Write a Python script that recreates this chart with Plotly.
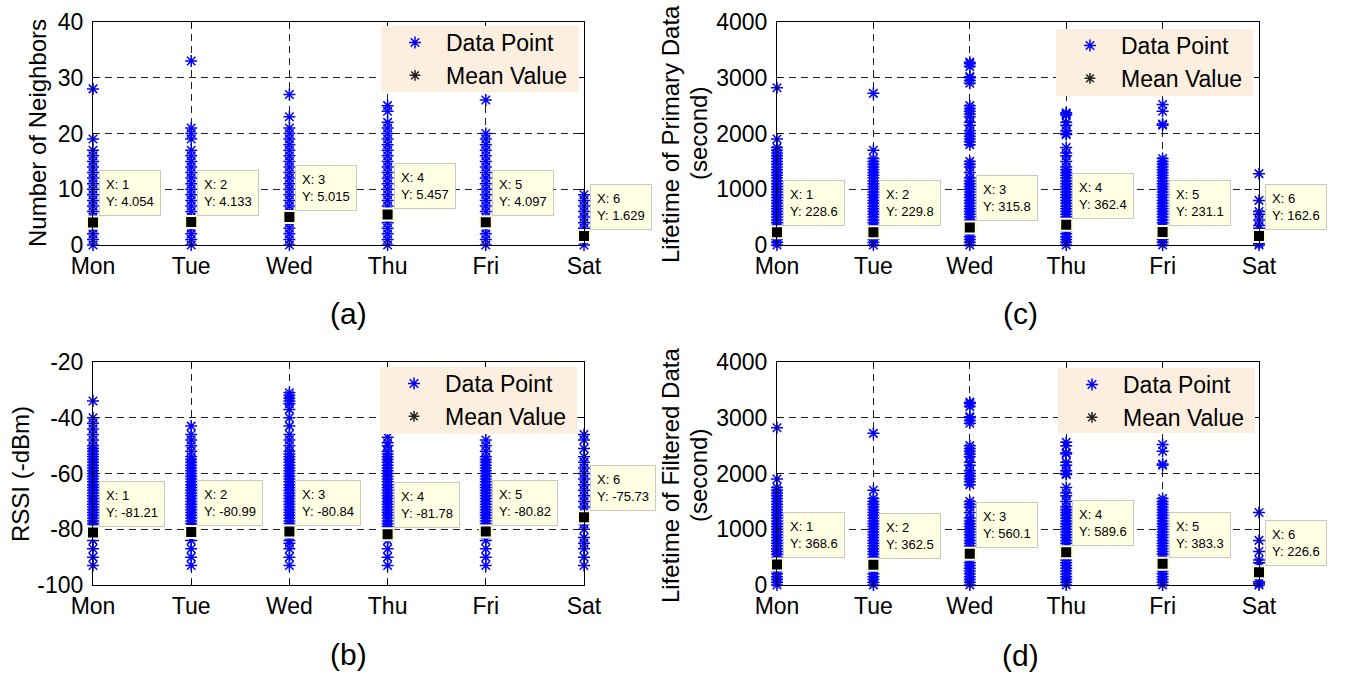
import plotly.graph_objects as go

W, H = 1347, 676
FONT = "Liberation Sans, Arial, sans-serif"

days = ["Mon", "Tue", "Wed", "Thu", "Fri", "Sat"]
day_pos = [1, 2, 3, 4, 5, 6]

# ---------------- (a) Number of neighbors ----------------
nb_mon = [0, 1, 2, 3, 4, 5, 6, 7, 8, 9, 10, 11, 12, 13, 14, 15, 16, 17, 19, 28]
nb_tue = [0, 1, 2, 3, 4, 5, 6, 7, 8, 9, 10, 11, 12, 13, 14, 15, 16, 17, 19, 20, 21, 33]
nb_wed = [0, 1, 2, 3, 4, 5, 6, 7, 8, 9, 10, 11, 12, 13, 14, 15, 16, 17, 18, 19, 20, 21, 23, 27]
nb_thu = [0, 1, 2, 3, 4, 5, 6, 7, 8, 9, 10, 11, 12, 13, 14, 15, 16, 17, 18, 19, 20, 21, 22, 24, 25]
nb_fri = [0, 1, 2, 3, 4, 5, 6, 7, 8, 9, 10, 11, 12, 13, 14, 15, 16, 17, 18, 19, 20, 26]
nb_sat = [0, 1, 2, 3, 4, 5, 6, 7, 8, 9]
nb_mean = [4.054, 4.133, 5.015, 5.457, 4.097, 1.629]
nb_mean_txt = ["4.054", "4.133", "5.015", "5.457", "4.097", "1.629"]
nb_ticks = [0, 10, 20, 30, 40]
nb_ticktext = ["0", "10", "20", "30", "40"]

# ---------------- (b) RSSI ----------------
rs_mon = [-93, -90, -87, -84, -82, -80, -79, -78, -77, -76, -75, -74, -73, -72, -71, -70, -69,
          -68, -67, -66, -65, -64, -63, -62, -61, -60, -59, -58, -57, -56, -55, -54, -53, -52,
          -51, -50, -48, -46, -44, -42, -40, -34]
rs_tue = [-93, -90, -87, -84, -82, -80, -79, -78, -77, -76, -75, -74, -73, -72, -71, -70, -69,
          -68, -67, -66, -65, -64, -63, -62, -61, -60, -59, -58, -57, -56, -55, -54, -52, -50,
          -48, -46, -43]
rs_wed = [-93, -90, -87, -85, -84, -82, -80, -79, -78, -77, -76, -75, -74, -73, -72, -71, -70,
          -69, -68, -67, -66, -65, -64, -63, -62, -61, -60, -59, -58, -57, -56, -55, -54, -53,
          -52, -50, -48, -46, -43, -40, -37, -35, -34, -33, -32, -31]
rs_thu = [-93, -90, -87, -84, -82, -80, -79, -78, -77, -76, -75, -74, -73, -72, -71, -70, -69,
          -68, -67, -66, -65, -64, -63, -62, -61, -60, -59, -58, -57, -56, -55, -54, -53, -52,
          -50, -49, -47]
rs_fri = [-93, -90, -87, -84, -82, -80, -79, -78, -77, -76, -75, -74, -73, -72, -71, -70, -69,
          -68, -67, -66, -65, -64, -63, -62, -61, -60, -59, -58, -57, -56, -55, -54, -52, -50,
          -48]
rs_sat = [-93, -90, -87, -85, -83, -80, -78, -76, -74, -72, -70, -68, -66, -64, -62, -60, -58,
          -56, -54, -51, -48, -46]
rs_mean = [-81.21, -80.99, -80.84, -81.78, -80.82, -75.73]
rs_mean_txt = ["-81.21", "-80.99", "-80.84", "-81.78", "-80.82", "-75.73"]
rs_ticks = [-100, -80, -60, -40, -20]
rs_ticktext = ["-100", "-80", "-60", "-40", "-20"]

# ---------------- (c) Lifetime of primary data ----------------
lp_mon = [0, 50, 100, 150, 200, 250, 300, 350, 400, 450, 500, 550, 600, 650, 700, 750, 800,
          850, 900, 950, 1000, 1050, 1100, 1150, 1200, 1250, 1300, 1350, 1400, 1450, 1500,
          1550, 1600, 1650, 1700, 1750, 1900, 2820]
lp_tue = [0, 50, 100, 150, 200, 250, 300, 350, 400, 450, 500, 550, 600, 650, 700, 750, 800,
          850, 900, 950, 1000, 1050, 1100, 1150, 1200, 1250, 1300, 1350, 1400, 1450, 1500,
          1550, 1700, 2720]
lp_wed = [0, 50, 100, 150, 200, 250, 300, 350, 400, 450, 500, 550, 600, 650, 700, 750, 800,
          850, 900, 950, 1000, 1050, 1100, 1150, 1200, 1300, 1400, 1450, 1500,
          1800, 1850, 1900, 1950, 2000, 2050, 2150, 2200, 2300, 2350, 2400, 2450, 2500,
          2900, 2950, 3000, 3020, 3200, 3250, 3280]
lp_thu = [0, 50, 100, 150, 200, 250, 300, 350, 400, 450, 500, 550, 600, 650, 700, 750, 800,
          850, 900, 950, 1000, 1050, 1100, 1150, 1200, 1250, 1300, 1350, 1400, 1500,
          1600, 1650, 1750, 1980, 2000, 2050, 2150, 2200, 2330, 2350, 2370]
lp_fri = [0, 50, 100, 150, 200, 250, 300, 350, 400, 450, 500, 550, 600, 650, 700, 750, 800,
          850, 900, 950, 1000, 1050, 1100, 1150, 1200, 1250, 1300, 1350, 1400, 1450, 1500,
          1550, 2150, 2170, 2400, 2520]
lp_sat = [0, 30, 60, 300, 350, 450, 550, 600, 800, 1280]
lp_mean = [228.6, 229.8, 315.8, 362.4, 231.1, 162.6]
lp_mean_txt = ["228.6", "229.8", "315.8", "362.4", "231.1", "162.6"]
lt_ticks = [0, 1000, 2000, 3000, 4000]
lt_ticktext = ["0", "1000", "2000", "3000", "4000"]

# ---------------- (d) Lifetime of filtered data ----------------
lf_mon = [0, 50, 100, 150, 200, 250, 300, 350, 400, 450, 500, 550, 600, 650, 700, 750, 800,
          850, 900, 950, 1000, 1050, 1100, 1150, 1200, 1250, 1300, 1350, 1400, 1450, 1500,
          1550, 1600, 1650, 1700, 1750, 1900, 2820]
lf_tue = [0, 50, 100, 150, 200, 250, 300, 350, 400, 450, 500, 550, 600, 650, 700, 750, 800,
          850, 900, 950, 1000, 1050, 1100, 1150, 1200, 1250, 1300, 1350, 1400, 1450, 1500,
          1550, 1700, 2720]
lf_wed = [0, 50, 100, 150, 200, 250, 300, 350, 400, 450, 500, 550, 600, 650, 700, 750, 800,
          850, 900, 950, 1000, 1050, 1100, 1150, 1200, 1300, 1400, 1450, 1500,
          1800, 1850, 1900, 1950, 2000, 2050, 2150, 2200, 2300, 2350, 2400, 2450, 2500,
          2900, 2950, 3000, 3020, 3200, 3250, 3280]
lf_thu = [0, 50, 100, 150, 200, 250, 300, 350, 400, 450, 500, 550, 600, 650, 700, 750, 800,
          850, 900, 950, 1000, 1050, 1100, 1150, 1200, 1250, 1300, 1350, 1400, 1500,
          1600, 1650, 1750, 1980, 2000, 2050, 2150, 2200, 2350, 2370, 2500, 2560]
lf_fri = [0, 50, 100, 150, 200, 250, 300, 350, 400, 450, 500, 550, 600, 650, 700, 750, 800,
          850, 900, 950, 1000, 1050, 1100, 1150, 1200, 1250, 1300, 1350, 1400, 1450, 1500,
          1550, 2150, 2170, 2400, 2520]
lf_sat = [0, 30, 60, 400, 450, 600, 800, 1300]
lf_mean = [368.6, 362.5, 560.1, 589.6, 383.3, 226.6]
lf_mean_txt = ["368.6", "362.5", "560.1", "589.6", "383.3", "226.6"]

panels = [
    dict(xa="x", ya="y", leg="legend",
         data=[nb_mon, nb_tue, nb_wed, nb_thu, nb_fri, nb_sat], mean=nb_mean, mtxt=nb_mean_txt,
         yr=[0, 40], tv=nb_ticks, tt=nb_ticktext, px=(93, 584), py=(22, 245),
         legbox=(381, 579, 26, 92),
         title=["Number of Neighbors"], tx=[38], ty=133, cap="(a)", cx=348, cy=313),
    dict(xa="x2", ya="y2", leg="legend2",
         data=[rs_mon, rs_tue, rs_wed, rs_thu, rs_fri, rs_sat], mean=rs_mean, mtxt=rs_mean_txt,
         yr=[-100, -20], tv=rs_ticks, tt=rs_ticktext, px=(93, 584), py=(362, 585),
         legbox=(380, 577, 367, 434),
         title=["RSSI (-dBm)"], tx=[20], ty=474, cap="(b)", cx=348, cy=654),
    dict(xa="x3", ya="y3", leg="legend3",
         data=[lp_mon, lp_tue, lp_wed, lp_thu, lp_fri, lp_sat], mean=lp_mean, mtxt=lp_mean_txt,
         yr=[0, 4000], tv=lt_ticks, tt=lt_ticktext, px=(777, 1259), py=(22, 245),
         legbox=(1056, 1253, 29, 96),
         title=["Lifetime of Primary Data", "(second)"], tx=[670, 698], ty=134,
         cap="(c)", cx=1020, cy=313),
    dict(xa="x4", ya="y4", leg="legend4",
         data=[lf_mon, lf_tue, lf_wed, lf_thu, lf_fri, lf_sat], mean=lf_mean, mtxt=lf_mean_txt,
         yr=[0, 4000], tv=lt_ticks, tt=lt_ticktext, px=(777, 1259), py=(362, 585),
         legbox=(1058, 1255, 368, 433),
         title=["Lifetime of Filtered Data", "(second)"], tx=[670, 698], ty=476,
         cap="(d)", cx=1020, cy=655),
]


def fx(p):
    return p / W


def fy(p):
    return 1 - p / H


fig = go.Figure()
annotations = []
shapes = []
layout = dict(width=W, height=H, margin=dict(l=0, r=0, t=0, b=0, autoexpand=False),
              paper_bgcolor="white", plot_bgcolor="white", showlegend=True,
              font=dict(family=FONT, color="black"))

for p in panels:
    xs, ys = [], []
    for d, vals in zip(day_pos, p["data"]):
        xs += [d] * len(vals)
        ys += vals
    fig.add_trace(go.Scatter(
        x=xs, y=ys, mode="markers", name="Data Point", xaxis=p["xa"], yaxis=p["ya"],
        legend=p["leg"], cliponaxis=False,
        marker=dict(symbol="asterisk-open", size=10, color="#0000ff",
                    line=dict(color="#0000ff", width=1.5))))
    # legend-only entry for mean value (black asterisk as in the reference legend)
    fig.add_trace(go.Scatter(
        x=[None], y=[None], mode="markers", name="Mean Value", xaxis=p["xa"], yaxis=p["ya"],
        legend=p["leg"],
        marker=dict(symbol="asterisk-open", size=9, color="#222",
                    line=dict(color="#222", width=1.5))))
    fig.add_trace(go.Scatter(
        x=day_pos, y=p["mean"], mode="markers", showlegend=False, xaxis=p["xa"], yaxis=p["ya"],
        cliponaxis=False,
        marker=dict(symbol="square", size=12, color="black",
                    line=dict(color="#fffbd6", width=2))))

    axn = p["xa"].replace("x", "xaxis")
    ayn = p["ya"].replace("y", "yaxis")
    common = dict(showline=True, linecolor="black", linewidth=1, mirror="ticks",
                  ticks="inside", ticklen=5, tickcolor="black", tickwidth=1,
                  showgrid=True, gridcolor="#222", gridwidth=1, griddash="7px,5px",
                  zeroline=False, automargin=False,
                  tickfont=dict(family=FONT, size=23, color="black"))
    layout[axn] = dict(common, domain=[fx(p["px"][0]), fx(p["px"][1])], range=[1, 6],
                       tickmode="array", tickvals=day_pos, ticktext=days,
                       anchor=p["ya"], ticklabelstandoff=0)
    layout[ayn] = dict(common, domain=[fy(p["py"][1]), fy(p["py"][0])], range=p["yr"],
                       tickmode="array", tickvals=p["tv"], ticktext=p["tt"],
                       anchor=p["xa"], ticklabelstandoff=4)

    lx0, lx1, ly0, ly1 = p["legbox"]
    shapes.append(dict(type="rect", xref="paper", yref="paper",
                       x0=fx(lx0), x1=fx(lx1), y0=fy(ly1), y1=fy(ly0),
                       fillcolor="#fcefdf", line=dict(width=0), layer="above"))
    layout[p["leg"]] = dict(x=fx(lx0 + 3), y=fy(ly0 - 5), xanchor="left", yanchor="top",
                            bgcolor="rgba(0,0,0,0)", borderwidth=0, itemwidth=52,
                            font=dict(family=FONT, size=23, color="black"),
                            tracegroupgap=0)

    # datatips
    for d, m, t in zip(day_pos, p["mean"], p["mtxt"]):
        annotations.append(dict(
            x=d, y=m, xref=p["xa"], yref=p["ya"], xanchor="left", yanchor="bottom",
            xshift=6, yshift=6, showarrow=False, align="left",
            text=f"X: {d}<br>Y: {t}", bgcolor="#ffffe4", bordercolor="#c9c9c0",
            borderwidth=1, borderpad=6, font=dict(family=FONT, size=13, color="black")))

    # y titles
    for txt, tx in zip(p["title"], p["tx"]):
        annotations.append(dict(x=fx(tx), y=fy(p["ty"]), xref="paper", yref="paper",
                                text=txt, showarrow=False, textangle=-90,
                                xanchor="center", yanchor="middle",
                                font=dict(family=FONT, size=24, color="black")))
    # caption
    annotations.append(dict(x=fx(p["cx"]), y=fy(p["cy"]), xref="paper", yref="paper",
                            text=p["cap"], showarrow=False, xanchor="center", yanchor="middle",
                            font=dict(family=FONT, size=30, color="black")))

layout["annotations"] = annotations
layout["shapes"] = shapes
fig.update_layout(**layout)
fig.write_html("out.html", config={"displayModeBar": False},
               post_script="document.body.style.margin='0';document.body.style.overflow='hidden';")
